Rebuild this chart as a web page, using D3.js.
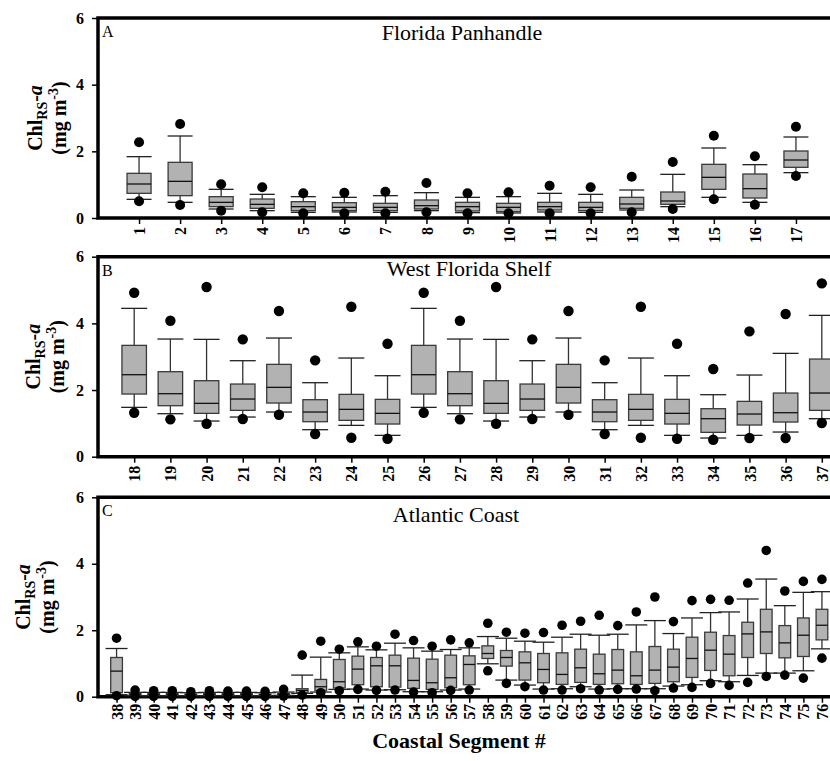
<!DOCTYPE html>
<html>
<head>
<meta charset="utf-8">
<script src="https://cdn.jsdelivr.net/npm/d3@7"></script>
<style>
  body { margin: 0; background: #fff; overflow: hidden; }
  svg { display: block; font-family: "Liberation Serif", "Times New Roman", serif; }
</style>
</head>
<body>
<svg id="chart"></svg>
<script>
const width = 830, height = 761;
const marginLeft = 98;

// A - Florida Panhandle
const segA   = [1, 2, 3, 4, 5, 6, 7, 8, 9, 10, 11, 12, 13, 14, 15, 16, 17];
const hiOutA = [2.27, 2.82, 1.01, 0.92, 0.74, 0.76, 0.79, 1.05, 0.74, 0.77, 0.97, 0.92, 1.24, 1.68, 2.47, 1.85, 2.74];
const hiCapA = [1.84, 2.46, 0.86, 0.71, 0.64, 0.62, 0.67, 0.76, 0.62, 0.64, 0.74, 0.71, 0.84, 1.31, 2.10, 1.60, 2.43];
const q3A    = [1.34, 1.67, 0.64, 0.57, 0.49, 0.46, 0.44, 0.54, 0.47, 0.44, 0.47, 0.47, 0.62, 0.78, 1.61, 1.32, 2.01];
const medA   = [1.02, 1.10, 0.47, 0.41, 0.34, 0.32, 0.32, 0.37, 0.34, 0.32, 0.34, 0.32, 0.42, 0.51, 1.22, 0.88, 1.74];
const q1A    = [0.74, 0.67, 0.34, 0.29, 0.22, 0.22, 0.22, 0.27, 0.21, 0.19, 0.24, 0.22, 0.29, 0.41, 0.86, 0.60, 1.52];
const loCapA = [0.56, 0.47, 0.27, 0.22, 0.17, 0.18, 0.17, 0.22, 0.16, 0.15, 0.18, 0.17, 0.24, 0.34, 0.62, 0.47, 1.36];
const loOutA = [0.50, 0.39, 0.22, 0.17, 0.14, 0.14, 0.14, 0.17, 0.14, 0.14, 0.14, 0.14, 0.17, 0.27, 0.56, 0.40, 1.26];

// B - West Florida Shelf
const segB   = [18, 19, 20, 21, 22, 23, 24, 25, 26, 27, 28, 29, 30, 31, 32, 33, 34, 35, 36, 37];
const hiOutB = [4.92, 4.08, 5.09, 3.52, 4.37, 2.89, 4.50, 3.39, 4.92, 4.08, 5.09, 3.52, 4.37, 2.89, 4.50, 3.39, 2.63, 3.76, 4.28, 5.20];
const hiCapB = [4.45, 3.53, 3.52, 2.88, 3.56, 2.22, 2.96, 2.43, 4.45, 3.53, 3.52, 2.88, 3.56, 2.22, 2.96, 2.43, 1.86, 2.45, 3.10, 4.24];
const q3B    = [3.34, 2.55, 2.28, 2.18, 2.77, 1.71, 1.87, 1.72, 3.34, 2.55, 2.28, 2.18, 2.77, 1.71, 1.87, 1.72, 1.44, 1.66, 1.91, 2.93];
const medB   = [2.46, 1.89, 1.60, 1.73, 2.08, 1.34, 1.42, 1.30, 2.46, 1.89, 1.60, 1.73, 2.08, 1.34, 1.42, 1.30, 1.14, 1.28, 1.32, 1.91];
const q1B    = [1.88, 1.53, 1.30, 1.39, 1.61, 1.05, 1.09, 0.98, 1.88, 1.53, 1.30, 1.39, 1.61, 1.05, 1.09, 0.98, 0.73, 0.95, 1.04, 1.39];
const loCapB = [1.48, 1.29, 1.07, 1.19, 1.34, 0.81, 0.94, 0.64, 1.48, 1.29, 1.07, 1.19, 1.34, 0.81, 0.94, 0.64, 0.56, 0.64, 0.74, 1.14];
const loOutB = [1.32, 1.12, 0.99, 1.13, 1.26, 0.68, 0.57, 0.54, 1.32, 1.12, 0.99, 1.13, 1.26, 0.68, 0.57, 0.54, 0.51, 0.56, 0.56, 1.01];

// C - Atlantic Coast
const segC   = [38, 39, 40, 41, 42, 43, 44, 45, 46, 47, 48, 49, 50, 51, 52, 53, 54, 55, 56, 57,
                58, 59, 60, 61, 62, 63, 64, 65, 66, 67, 68, 69, 70, 71, 72, 73, 74, 75, 76];
const hiOutC = [1.76, 0.20, 0.18, 0.18, 0.15, 0.18, 0.17, 0.17, 0.16, 0.22, 1.25, 1.67, 1.43, 1.65, 1.52, 1.88, 1.69, 1.52, 1.71, 1.62,
                2.21, 1.94, 1.91, 1.93, 2.15, 2.27, 2.45, 2.14, 2.55, 3.00, 2.26, 2.89, 2.93, 2.90, 3.42, 4.40, 3.18, 3.47, 3.53];
const hiCapC = [1.45, 0.13, 0.13, 0.13, 0.12, 0.13, 0.13, 0.13, 0.12, 0.14, 0.65, 1.19, 1.32, 1.50, 1.41, 1.61, 1.47, 1.37, 1.42, 1.47,
                1.81, 1.76, 1.67, 1.64, 1.79, 1.88, 1.85, 1.88, 2.16, 2.29, 1.90, 2.37, 2.53, 2.55, 2.94, 3.54, 2.74, 3.14, 3.16];
const q3C    = [1.18, 0.09, 0.09, 0.09, 0.08, 0.09, 0.09, 0.09, 0.08, 0.10, 0.24, 0.52, 1.12, 1.22, 1.18, 1.25, 1.16, 1.13, 1.25, 1.23,
                1.53, 1.39, 1.35, 1.30, 1.32, 1.43, 1.28, 1.42, 1.35, 1.51, 1.43, 1.79, 1.94, 1.84, 2.24, 2.63, 2.14, 2.37, 2.63];
const medC   = [0.77, 0.07, 0.07, 0.07, 0.06, 0.07, 0.07, 0.07, 0.06, 0.08, 0.19, 0.30, 0.45, 0.83, 0.93, 0.93, 0.49, 0.42, 0.57, 0.97,
                1.30, 1.18, 1.02, 0.82, 0.67, 0.87, 0.69, 0.80, 0.63, 0.80, 0.89, 1.15, 1.40, 1.28, 1.89, 1.95, 1.62, 1.85, 2.15];
const q1C    = [0.12, 0.05, 0.05, 0.05, 0.04, 0.05, 0.05, 0.05, 0.04, 0.06, 0.12, 0.18, 0.26, 0.36, 0.30, 0.29, 0.25, 0.22, 0.27, 0.36,
                1.15, 0.92, 0.50, 0.42, 0.37, 0.43, 0.37, 0.39, 0.37, 0.40, 0.45, 0.58, 0.79, 0.63, 1.18, 1.30, 1.17, 1.21, 1.71];
const loCapC = [0.06, 0.03, 0.03, 0.03, 0.03, 0.03, 0.03, 0.03, 0.03, 0.04, 0.10, 0.14, 0.22, 0.23, 0.20, 0.21, 0.15, 0.15, 0.20, 0.23,
                0.99, 0.50, 0.35, 0.23, 0.24, 0.30, 0.23, 0.24, 0.24, 0.24, 0.32, 0.36, 0.48, 0.45, 0.64, 0.71, 0.71, 0.78, 1.44];
const loOutC = [0.03, 0.01, 0.01, 0.01, 0.01, 0.01, 0.01, 0.01, 0.01, 0.02, 0.05, 0.12, 0.18, 0.22, 0.19, 0.20, 0.14, 0.12, 0.19, 0.20,
                0.78, 0.40, 0.30, 0.20, 0.20, 0.24, 0.20, 0.22, 0.23, 0.18, 0.26, 0.28, 0.40, 0.34, 0.43, 0.61, 0.65, 0.56, 1.16];

const yTicks = [0, 2, 4, 6];

const panels = [
    {letter: "A", title: "Florida Panhandle", seg: segA, hiOut: hiOutA, hiCap: hiCapA, q3: q3A, med: medA, q1: q1A, loCap: loCapA, loOut: loOutA,
     top: 18, bottom: 218, right: 837, boxW: 24, capW: 25, r: 5, titleX: 462, titleDy: 22, labelX: 42, labelPad: 9},
    {letter: "B", title: "West Florida Shelf", seg: segB, hiOut: hiOutB, hiCap: hiCapB, q3: q3B, med: medB, q1: q1B, loCap: loCapB, loOut: loOutB,
     top: 256.7, bottom: 456.7, right: 858, boxW: 24.5, capW: 26, r: 5.2, titleX: 469, titleDy: 19.5, labelX: 40, labelPad: 9},
    {letter: "C", title: "Atlantic Coast", seg: segC, hiOut: hiOutC, hiCap: hiCapC, q3: q3C, med: medC, q1: q1C, loCap: loCapC, loOut: loOutC,
     top: 497.3, bottom: 696.7, right: 840.5, boxW: 11.7, capW: 22, r: 4.8, titleX: 456, titleDy: 24.5, labelX: 30, labelPad: 7}
];

const svg = d3.select("#chart")
    .attr("width", width)
    .attr("height", height)
    .attr("viewBox", [0, 0, width, height]);

function drawPanel(p) {
    const g = svg.append("g").attr("class", "panel");

    const x = d3.scalePoint()
        .domain(p.seg)
        .range([marginLeft, p.right])
        .padding(1);

    const y = d3.scaleLinear()
        .domain([0, 6])
        .range([p.bottom, p.top]);

    const rows = p.seg.map((s, i) => ({
        seg: s, hiOut: p.hiOut[i], hiCap: p.hiCap[i], q3: p.q3[i],
        med: p.med[i], q1: p.q1[i], loCap: p.loCap[i], loOut: p.loOut[i]
    }));

    // frame (right side runs off the page)
    g.append("path")
        .attr("fill", "none")
        .attr("stroke", "#000")
        .attr("stroke-width", 3.5)
        .attr("d", `M${p.right + 30},${p.top}H${marginLeft}V${p.bottom}H${p.right + 30}`);

    // y axis
    const ya = g.append("g")
        .attr("transform", `translate(${marginLeft},0)`)
        .call(d3.axisLeft(y).tickValues(yTicks).tickSize(6).tickPadding(8).tickFormat(d3.format("d")));
    ya.select(".domain").remove();
    ya.selectAll(".tick line").attr("stroke-width", 1.5);
    ya.selectAll(".tick text")
        .attr("font-family", "Liberation Serif")
        .attr("font-size", 16)
        .attr("font-weight", "bold")
        .attr("fill", "#000");

    // x axis
    const xa = g.append("g")
        .attr("transform", `translate(0,${p.bottom})`)
        .call(d3.axisBottom(x).tickSize(6));
    xa.select(".domain").remove();
    xa.selectAll(".tick line").attr("stroke-width", 1.5);
    xa.selectAll(".tick text")
        .attr("font-family", "Liberation Serif")
        .attr("font-size", 16)
        .attr("font-weight", "bold")
        .attr("fill", "#000")
        .attr("transform", "rotate(-90)")
        .attr("text-anchor", "end")
        .attr("x", -p.labelPad)
        .attr("y", 0)
        .attr("dy", "0.35em");

    // boxes
    const box = g.append("g").selectAll("g")
        .data(rows)
        .join("g")
        .attr("transform", d => `translate(${x(d.seg)},0)`);

    box.append("line")
        .attr("y1", d => y(d.hiCap))
        .attr("y2", d => y(d.loCap))
        .attr("stroke", "#333")
        .attr("stroke-width", 1.3);

    box.append("line")
        .attr("x1", -p.capW / 2).attr("x2", p.capW / 2)
        .attr("y1", d => y(d.hiCap)).attr("y2", d => y(d.hiCap))
        .attr("stroke", "#222")
        .attr("stroke-width", 1.3);

    box.append("line")
        .attr("x1", -p.capW / 2).attr("x2", p.capW / 2)
        .attr("y1", d => y(d.loCap)).attr("y2", d => y(d.loCap))
        .attr("stroke", "#222")
        .attr("stroke-width", 1.3);

    box.append("rect")
        .attr("x", -p.boxW / 2)
        .attr("width", p.boxW)
        .attr("y", d => y(d.q3))
        .attr("height", d => y(d.q1) - y(d.q3))
        .attr("fill", "#b2b2b2")
        .attr("stroke", "#3a3a3a")
        .attr("stroke-width", 1.3);

    box.append("line")
        .attr("x1", -p.boxW / 2).attr("x2", p.boxW / 2)
        .attr("y1", d => y(d.med)).attr("y2", d => y(d.med))
        .attr("stroke", "#111")
        .attr("stroke-width", 1.3);

    box.append("circle")
        .attr("cy", d => y(d.hiOut))
        .attr("r", p.r)
        .attr("fill", "#000");

    box.append("circle")
        .attr("cy", d => y(d.loOut))
        .attr("r", p.r)
        .attr("fill", "#000");

    // panel letter and title
    g.append("text")
        .attr("x", 102)
        .attr("y", p.top + 19)
        .attr("font-size", 16)
        .text(p.letter);

    g.append("text")
        .attr("x", p.titleX)
        .attr("y", p.top + p.titleDy)
        .attr("text-anchor", "middle")
        .attr("font-size", 22)
        .text(p.title);

    // y label: Chl_RS-a / (mg m^-3)
    const cy = (p.top + p.bottom) / 2;
    const l1 = g.append("text")
        .attr("transform", `translate(${p.labelX},${cy}) rotate(-90)`)
        .attr("text-anchor", "middle")
        .attr("font-size", 20)
        .attr("font-weight", "bold");
    l1.append("tspan").text("Chl");
    l1.append("tspan").attr("font-size", 14).attr("dy", 5).text("RS");
    l1.append("tspan").attr("dy", -5).text("-");
    l1.append("tspan").attr("font-style", "italic").text("a");

    const l2 = g.append("text")
        .attr("transform", `translate(${p.labelX + 24},${cy}) rotate(-90)`)
        .attr("text-anchor", "middle")
        .attr("font-size", 20)
        .attr("font-weight", "bold");
    l2.append("tspan").text("(mg m");
    l2.append("tspan").attr("font-size", 14).attr("dy", -8).text("-3");
    l2.append("tspan").attr("dy", 8).text(")");
}

panels.forEach(drawPanel);

svg.append("text")
    .attr("x", 459)
    .attr("y", 748)
    .attr("text-anchor", "middle")
    .attr("font-size", 22)
    .attr("font-weight", "bold")
    .text("Coastal Segment #");
</script>
</body>
</html>
